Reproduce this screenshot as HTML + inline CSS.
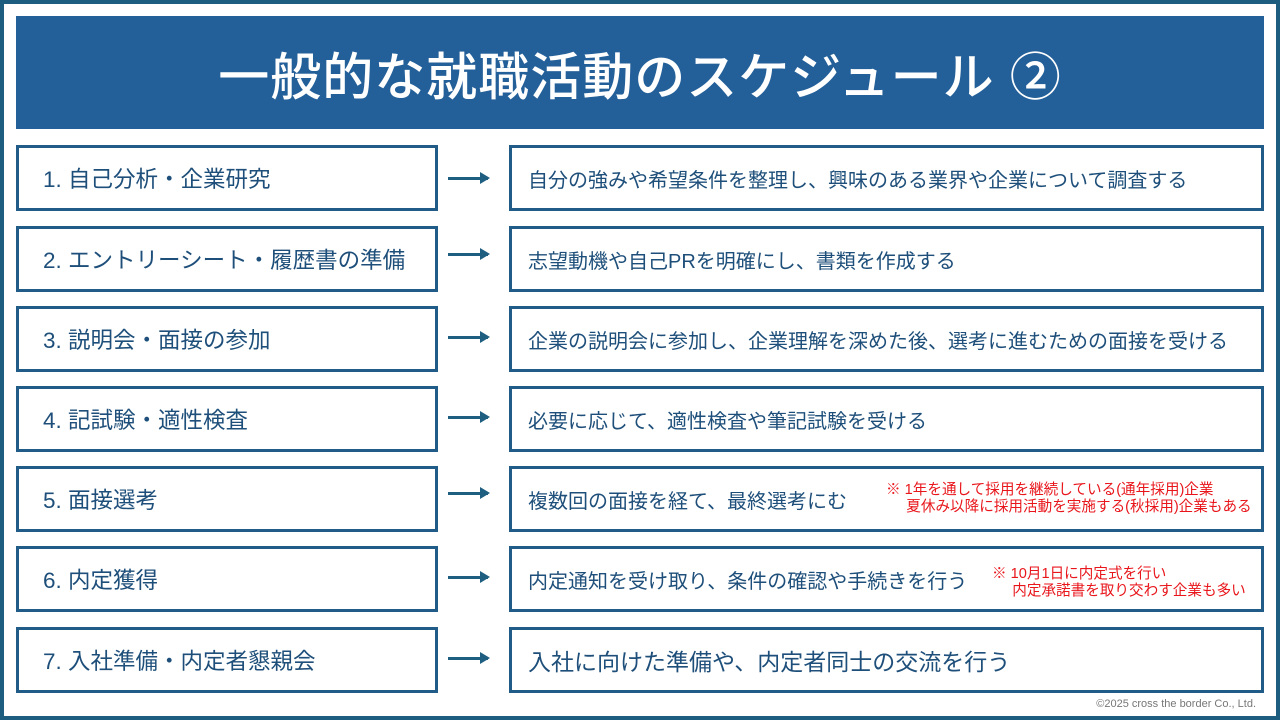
<!DOCTYPE html>
<html><head><meta charset="utf-8"><style>
*{margin:0;padding:0;box-sizing:border-box}
body{width:1280px;height:720px;overflow:hidden;background:#fff;font-family:"Liberation Sans","Noto Sans CJK JP",sans-serif;position:relative}
.frame{position:absolute;left:0;top:0;width:1280px;height:720px;border:4px solid #1d5e80}
.title{position:absolute;left:16px;top:16px;width:1248px;height:113px;background:#235f98;color:#fff;font-size:51px;font-weight:500;display:flex;align-items:center;justify-content:center;letter-spacing:1px}
.box{position:absolute;border:3px solid #215b87;background:#fff;color:#1e4f7a;display:flex;align-items:center}
.l{left:16px;width:422px;font-size:22.5px;padding-left:24px}
.r{left:509px;width:755px;font-size:20px;padding-left:16px}
.arr{position:absolute;left:448px;width:40px;height:3px;background:#1e5e80}
.arr:after{content:"";position:absolute;right:-2px;top:-5px;border-left:10px solid #1e5e80;border-top:6.5px solid transparent;border-bottom:6.5px solid transparent}
.note{position:absolute;color:#e8161b;font-size:14.6px;line-height:17px}
.copy{position:absolute;right:24px;top:698px;font-size:11px;color:#777}
</style></head><body>
<div class="frame"></div>
<div class="title">一般的な就職活動のスケジュール ②</div>

<div class="box l" style="top:145px;height:66px">1. 自己分析・企業研究</div>
<div class="arr" style="top:177px"></div>
<div class="box r" style="top:145px;height:66px">自分の強みや希望条件を整理し、興味のある業界や企業について調査する</div>

<div class="box l" style="top:226px;height:66px">2. エントリーシート・履歴書の準備</div>
<div class="arr" style="top:253px"></div>
<div class="box r" style="top:226px;height:66px">志望動機や自己PRを明確にし、書類を作成する</div>

<div class="box l" style="top:306px;height:66px">3. 説明会・面接の参加</div>
<div class="arr" style="top:336px"></div>
<div class="box r" style="top:306px;height:66px">企業の説明会に参加し、企業理解を深めた後、選考に進むための面接を受ける</div>

<div class="box l" style="top:386px;height:66px">4. 記試験・適性検査</div>
<div class="arr" style="top:416px"></div>
<div class="box r" style="top:386px;height:66px">必要に応じて、適性検査や筆記試験を受ける</div>

<div class="box l" style="top:466px;height:66px">5. 面接選考</div>
<div class="arr" style="top:492px"></div>
<div class="box r" style="top:466px;height:66px">複数回の面接を経て、最終選考にむ</div>
<div class="note" style="left:886px;top:482px">※ 1年を通して採用を継続している(通年採用)企業<br>&nbsp;&nbsp;&nbsp;&nbsp;&nbsp;夏休み以降に採用活動を実施する(秋採用)企業もある</div>

<div class="box l" style="top:546px;height:66px">6. 内定獲得</div>
<div class="arr" style="top:576px"></div>
<div class="box r" style="top:546px;height:66px">内定通知を受け取り、条件の確認や手続きを行う</div>
<div class="note" style="left:992px;top:566px">※ 10月1日に内定式を行い<br>&nbsp;&nbsp;&nbsp;&nbsp;&nbsp;内定承諾書を取り交わす企業も多い</div>

<div class="box l" style="top:627px;height:66px">7. 入社準備・内定者懇親会</div>
<div class="arr" style="top:657px"></div>
<div class="box r" style="top:627px;height:66px;font-size:23px">入社に向けた準備や、内定者同士の交流を行う</div>

<div class="copy">©2025 cross the border Co., Ltd.</div>
</body></html>
